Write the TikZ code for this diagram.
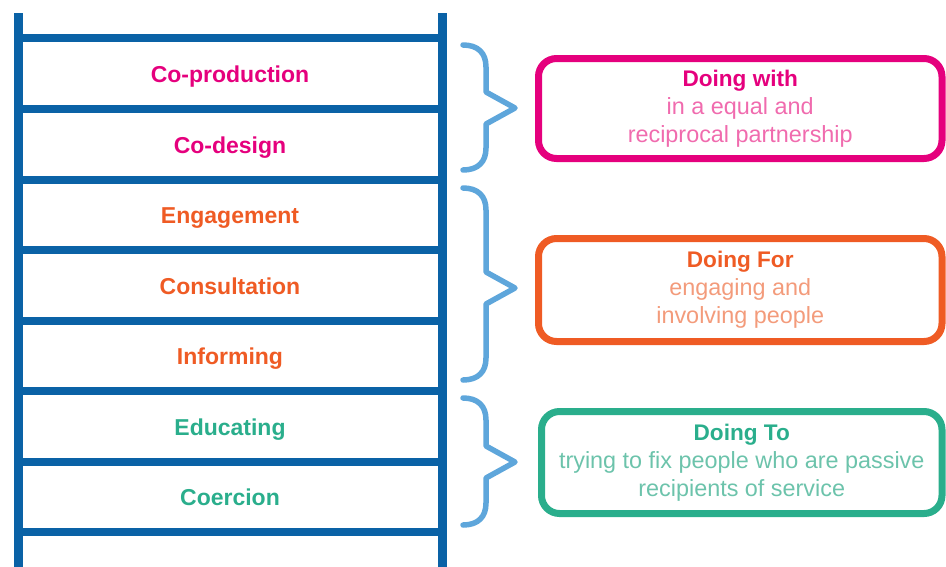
\documentclass[tikz,border=0pt]{standalone}
\usepackage{fontspec}
\setmainfont{Liberation Sans}
\definecolor{rail}{HTML}{0A62A6}
\definecolor{brace}{HTML}{5EA6DB}
\definecolor{pinkT}{HTML}{E5007D}
\definecolor{pinkB}{HTML}{F06BAE}
\definecolor{oranT}{HTML}{EF5B24}
\definecolor{oranB}{HTML}{F39B7B}
\definecolor{tealT}{HTML}{2AAE8C}
\definecolor{tealB}{HTML}{6CC3AB}
\newcommand\boxtitlefont{\fontsize{22.6}{28}\selectfont\bfseries}
\tikzset{
  railline/.style={draw=rail, line width=9pt},
  rungline/.style={draw=rail, line width=8pt},
  braceline/.style={draw=brace, line width=5.5pt, line cap=round, line join=round},
  steplabel/.style={font=\fontsize{23}{26}\selectfont\bfseries, anchor=base},
  groupbox/.style={draw, line width=7pt, rounded corners=18pt, inner sep=0pt, align=center,
     font=\fontsize{23.4}{28}\selectfont},
}
\begin{document}
\begin{tikzpicture}[x=1pt,y=-1pt]
\useasboundingbox (0,0) rectangle (946,566);
\clip (0,0) rectangle (946,566);
% rails
\coordinate (lt) at (18,13); \coordinate (lb) at (18,570);
\coordinate (rt) at (442,13); \coordinate (rb) at (442,570);
\draw[railline] (lt) -- (lb);
\draw[railline] (rt) -- (rb);
% rungs
\foreach \y [count=\i] in {38,109,180,250,321,391,462,532}{
  \coordinate (rl\i) at (18,\y); \coordinate (rr\i) at (442,\y);
  \draw[rungline] (rl\i) -- (rr\i);
}
% labels
\node[steplabel, text=pinkT] (s1) at (230,82) {Co-production};
\node[steplabel, text=pinkT] (s2) at (230,153) {Co-design};
\node[steplabel, text=oranT] (s3) at (230,223.5) {Engagement};
\node[steplabel, text=oranT] (s4) at (230,294) {Consultation};
\node[steplabel, text=oranT] (s5) at (230,364.5) {Informing};
\node[steplabel, text=tealT] (s6) at (230,435) {Educating};
\node[steplabel, text=tealT] (s7) at (230,505.5) {Coercion};
% braces
\foreach \t/\m/\b in {45/108/170, 188/288/380, 398/462/525}{
  \draw[braceline] (463,\t) .. controls (478,\t) and (486,\t+8) .. (486,\t+22)
     -- (486,\m-16) -- (515,\m) -- (486,\m+16)
     -- (486,\b-22) .. controls (486,\b-8) and (478,\b) .. (463,\b);
}
% boxes
\node[groupbox, draw=pinkT, minimum width=403.5pt, minimum height=100pt] (g1) at (740.25,108.5)
  {\textcolor{pinkT}{\boxtitlefont Doing with}\\ \textcolor{pinkB}{in a equal and}\\ \textcolor{pinkB}{reciprocal partnership}};
\node[groupbox, draw=oranT, minimum width=403.5pt, minimum height=103pt] (g2) at (740.25,290)
  {\textcolor{oranT}{\boxtitlefont Doing For}\\ \textcolor{oranB}{engaging and}\\ \textcolor{oranB}{involving people}};
\node[groupbox, draw=tealT, minimum width=400.5pt, minimum height=102pt] (g3) at (741.75,462.5)
  {\textcolor{tealT}{\boxtitlefont Doing To}\\ \textcolor{tealB}{trying to fix people who are passive}\\ \textcolor{tealB}{recipients of service}};
\end{tikzpicture}
\end{document}
